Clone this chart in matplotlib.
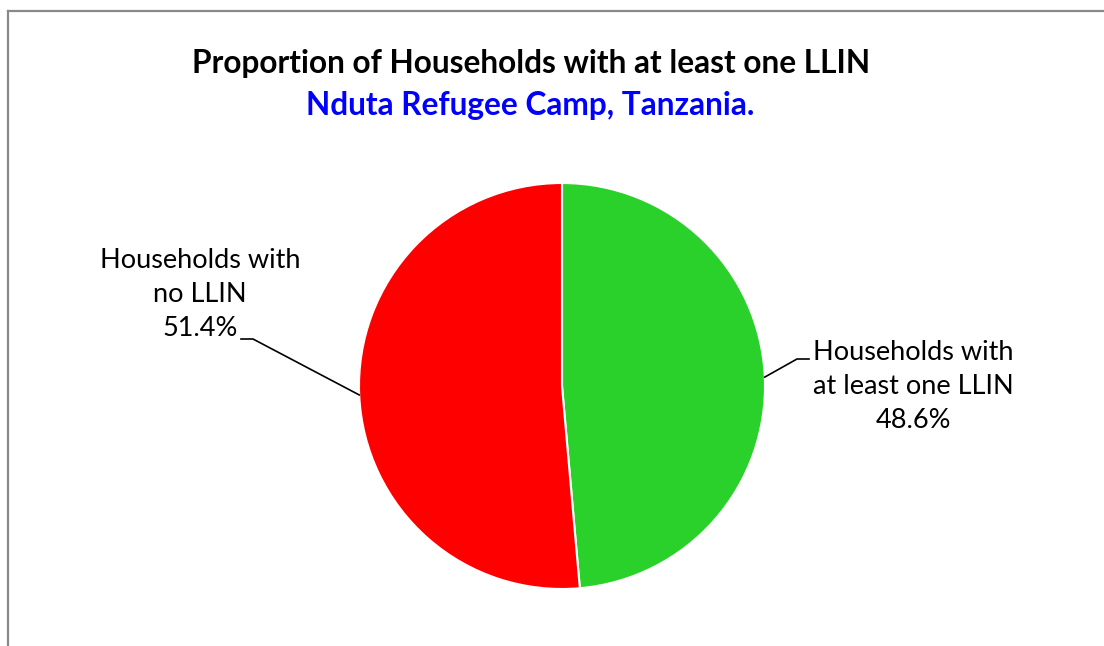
import numpy as np
import matplotlib.pyplot as plt
from matplotlib.lines import Line2D

# ── DATA ─────────────────────────────────────────────────────────
categories = ["Households with\nat least one LLIN", "Households with\nno LLIN"]
shares     = [48.6, 51.4]
colors     = ["#2BD12B", "#FF0000"]

TITLE    = "Proportion of Households with at least one LLIN"
SUBTITLE = "Nduta Refugee Camp, Tanzania."

W, H = 1104, 646
plt.rcParams["font.family"] = ["Lato", "DejaVu Sans"]

fig = plt.figure(figsize=(W / 100, H / 100), dpi=100)
ax = fig.add_axes([0, 0, 1, 1])

center = (562, H - 386)
radius = 203
wedges, _ = ax.pie(shares, colors=colors, startangle=90, counterclock=False,
                   center=center, radius=radius,
                   wedgeprops=dict(edgecolor="white", linewidth=1.5))
ax.set_xlim(0, W)
ax.set_ylim(0, H)
ax.set_aspect("equal")
ax.axis("off")

# chart-area border (top and left edges only)
fig.add_artist(Line2D([8 / W, 1], [1 - 11 / H, 1 - 11 / H], color="#898989", lw=1.6))
fig.add_artist(Line2D([8 / W, 8 / W], [0, 1 - 11 / H], color="#898989", lw=1.6))

ax.text(531, H - 63, TITLE, ha="center", va="center", fontsize=22.8,
        fontweight="bold", color="black")
ax.text(530, H - 105, SUBTITLE, ha="center", va="center", fontsize=22.8,
        fontweight="bold", color="#0000FF")

# data labels with leader lines
label_pos = [(913, H - 386), (200, H - 295)]
elbows    = [[(797, H - 359), (809, H - 359)], [(253, H - 339), (241, H - 339)]]
for w, lab, share, pos, elb in zip(wedges, categories, shares, label_pos, elbows):
    mid = np.deg2rad((w.theta1 + w.theta2) / 2)
    edge = (center[0] + radius * np.cos(mid), center[1] + radius * np.sin(mid))
    xs = [edge[0]] + [p[0] for p in elb]
    ys = [edge[1]] + [p[1] for p in elb]
    ax.plot(xs, ys, color="black", lw=1.2)
    ax.text(pos[0], pos[1], f"{lab}\n{share:.1f}%", ha="center", va="center",
            fontsize=19.5, linespacing=1.45, color="black")

fig.savefig("out.png", dpi=100, facecolor="white")
